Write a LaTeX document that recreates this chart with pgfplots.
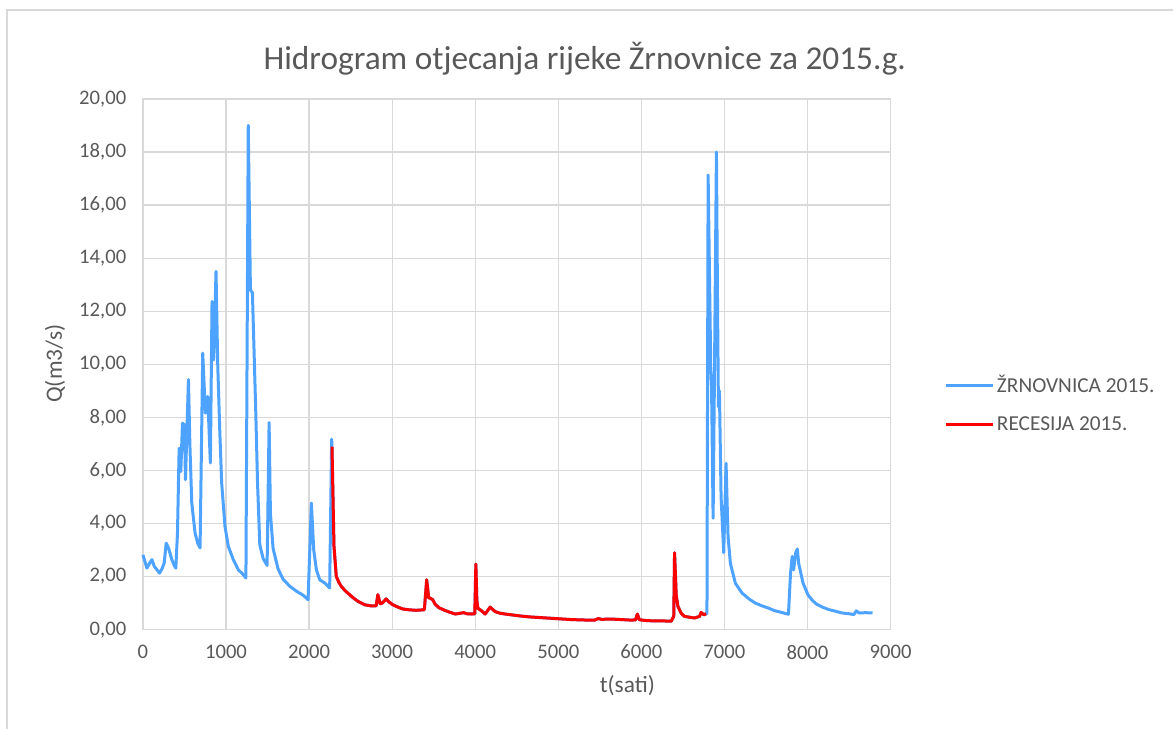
\documentclass[border=0pt]{standalone}
\usepackage{pgfplots}
\pgfplotsset{compat=1.18}
\usepackage{pgfplotstable}
\usepackage{fontspec}
\setmainfont{Carlito}
\definecolor{txt}{HTML}{595959}
\definecolor{gridc}{HTML}{D9D9D9}
\definecolor{blueS}{HTML}{4DA3FF}
\definecolor{redS}{HTML}{FF0000}

\pgfplotstableread{
h Q
0 2.82
48 2.32
80 2.5
108 2.64
136 2.39
170 2.25
200 2.13
230 2.3
256 2.51
280 3.26
308 3.08
348 2.64
380 2.4
396 2.32
416 3.64
436 6.84
456 5.96
476 7.78
500 7.72
512 5.65
548 9.42
565 7.0
588 4.77
628 3.64
660 3.25
688 3.08
720 10.42
752 8.16
780 8.79
812 6.28
832 12.37
852 10.17
880 13.5
900 10.04
925 7.5
948 5.52
988 3.89
1028 3.14
1088 2.64
1148 2.26
1200 2.1
1240 1.95
1268 19.0
1294 12.8
1318 12.7
1358 8.26
1380 5.5
1407 3.2
1447 2.68
1495 2.42
1519 7.81
1535 4.36
1567 3.06
1627 2.29
1687 1.9
1767 1.64
1848 1.45
1928 1.3
1988 1.13
2028 4.77
2056 3.01
2088 2.26
2128 1.88
2188 1.76
2248 1.57
2272 7.18
2276 6.9
2300 3.14
2328 2.0
2360 1.78
2388 1.63
2440 1.45
2488 1.32
2540 1.18
2588 1.07
2668 0.94
2740 0.9
2808 0.9
2828 1.32
2856 0.98
2880 1.0
2928 1.16
2960 1.05
3008 0.94
3070 0.85
3128 0.78
3200 0.75
3288 0.73
3388 0.75
3416 1.88
3440 1.2
3456 1.19
3488 1.13
3520 0.95
3568 0.82
3640 0.72
3700 0.65
3760 0.59
3860 0.64
3900 0.6
3960 0.59
3995 0.6
4008 2.47
4020 1.1
4032 0.81
4080 0.7
4120 0.59
4180 0.85
4240 0.68
4300 0.62
4360 0.59
4460 0.55
4560 0.51
4660 0.48
4760 0.46
4860 0.44
4960 0.42
5060 0.4
5160 0.38
5260 0.37
5360 0.36
5440 0.36
5480 0.42
5520 0.39
5640 0.4
5760 0.38
5880 0.36
5930 0.37
5952 0.59
5975 0.38
6008 0.36
6080 0.34
6160 0.33
6260 0.33
6360 0.32
6390 0.5
6400 2.9
6420 1.3
6440 0.88
6480 0.62
6520 0.5
6580 0.47
6640 0.44
6700 0.5
6720 0.65
6752 0.56
6780 0.6
6790 0.6
6804 17.13
6836 9.8
6845 9.2
6864 4.2
6880 9.5
6904 18.0
6918 12.0
6928 8.4
6940 9.0
6960 5.0
6992 2.9
7020 6.27
7044 3.5
7072 2.5
7132 1.75
7212 1.38
7300 1.15
7373 1.0
7450 0.9
7533 0.81
7600 0.72
7700 0.64
7771 0.58
7796 2.13
7816 2.76
7833 2.25
7857 2.89
7878 3.04
7894 2.5
7947 1.75
8008 1.3
8060 1.1
8110 0.96
8180 0.85
8253 0.76
8330 0.7
8416 0.63
8500 0.6
8559 0.57
8588 0.71
8620 0.63
8700 0.64
8783 0.63
}\zrnovnica

\pgfplotstableread{
h Q
2276 6.9
2300 3.14
2328 2.0
2360 1.78
2388 1.63
2440 1.45
2488 1.32
2540 1.18
2588 1.07
2668 0.94
2740 0.9
2808 0.9
2828 1.32
2856 0.98
2880 1.0
2928 1.16
2960 1.05
3008 0.94
3070 0.85
3128 0.78
3200 0.75
3288 0.73
3388 0.75
3416 1.88
3440 1.2
3456 1.19
3488 1.13
3520 0.95
3568 0.82
3640 0.72
3700 0.65
3760 0.59
3860 0.64
3900 0.6
3960 0.59
3995 0.6
4008 2.47
4020 1.1
4032 0.81
4080 0.7
4120 0.59
4180 0.85
4240 0.68
4300 0.62
4360 0.59
4460 0.55
4560 0.51
4660 0.48
4760 0.46
4860 0.44
4960 0.42
5060 0.4
5160 0.38
5260 0.37
5360 0.36
5440 0.36
5480 0.42
5520 0.39
5640 0.4
5760 0.38
5880 0.36
5930 0.37
5952 0.59
5975 0.38
6008 0.36
6080 0.34
6160 0.33
6260 0.33
6360 0.32
6390 0.5
6400 2.9
6420 1.3
6440 0.88
6480 0.62
6520 0.5
6580 0.47
6640 0.44
6700 0.5
6720 0.65
6752 0.56
6780 0.6
}\recesija

\begin{document}
\begin{tikzpicture}
\begin{axis}[
  name=ax,
  scale only axis,
  width=561pt, height=398.25pt,
  xmin=0, xmax=9000, ymin=0, ymax=20,
  xtick={0,1000,...,9000},
  ytick={0,2,...,20},
  grid=major,
  major grid style={draw=gridc, line width=0.9pt},
  axis line style={draw=gridc, line width=0.9pt},
  major tick length=0pt,
  tick label style={font=\fontsize{15.5}{18}\selectfont, text=txt},
  /pgf/number format/assume math mode=true,
  xticklabel style={/pgf/number format/1000 sep={}, yshift=-8pt},
  yticklabel style={/pgf/number format/.cd, fixed, fixed zerofill, precision=2, use comma, /tikz/.cd, xshift=-9pt},
  scaled y ticks=false,
  every axis title shift=0pt,
  title={Hidrogram otjecanja rijeke Žrnovnice za 2015.g.},
  title style={font=\fontsize{25}{28}\selectfont, text=txt, at={(axis description cs:0.591,1.0763)}, anchor=center},
  xlabel={t(sati)},
  xlabel style={font=\fontsize{17.5}{20}\selectfont, text=txt, at={(axis description cs:0.648,-0.105)}, anchor=center},
  ylabel={Q(m3/s)},
  ylabel style={font=\fontsize{17.5}{20}\selectfont, text=txt, at={(axis description cs:-0.1176,0.501)}, anchor=center},
  legend style={draw=none, fill=none, at={(axis description cs:1.072,0.4256)}, anchor=west,
    font=\fontsize{16}{19}\selectfont, text=txt, row sep=12pt, inner sep=0pt},
  legend cell align=left,
  legend image code/.code={\draw[#1, line width=2.25pt] (0pt,0pt) -- (35pt,0pt);},
  clip=false,
]
\addplot[blueS, line width=2.25pt, line join=round] table[x=h, y=Q] {\zrnovnica};
\addlegendentry{ŽRNOVNICA 2015.}
\addplot[redS, line width=2.25pt, line join=round] table[x=h, y=Q] {\recesija};
\addlegendentry{RECESIJA 2015.}
\end{axis}
\draw[gridc, line width=0.9pt]
  ([xshift=-102pt, yshift=-74.25pt]ax.south west) -- ([xshift=-102pt, yshift=66.75pt]ax.north west) -- ([xshift=212.25pt, yshift=66.75pt]ax.north east);
\path[use as bounding box] ([xshift=-107.25pt,yshift=-74.25pt]ax.south west) rectangle ([xshift=212.25pt,yshift=74.25pt]ax.north east);
\end{tikzpicture}
\end{document}
